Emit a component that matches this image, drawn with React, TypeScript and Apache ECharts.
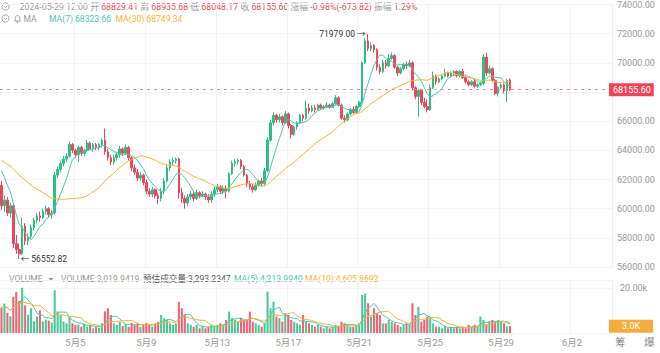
import React, { useEffect, useRef } from "react";
import * as echarts from "echarts";

const UP = "#2ebd85";
const DOWN = "#f0465c";
const MA_TEAL = "#4cc6b0";
const MA_ORANGE = "#f5b335";
const GRAY = "#999999";
const FONT = "Roboto, 'Noto Sans CJK SC', sans-serif";

// closes before the visible range, used only for the moving averages
const priorCloses = [
  63900, 64100, 63800, 63600, 63700, 63500, 63300, 63400, 63200, 63500, 63600, 63300, 63100, 63400, 63700,
  63600, 63500, 63300, 63400, 63600, 63500, 63300, 63500, 63800, 63500, 63300, 63100, 62700, 61600,
];

// [open, close, low, high] per 4h candle, from 2024-04-30 20:00
const candles: number[][] = [
  [61600, 60200, 59900, 61900], [60200, 60600, 59800, 60900], [60600, 59700, 59500, 60800], [59700, 60200, 59400, 60400],
  [60200, 57600, 57300, 60400], [57600, 57200, 56900, 58200], [57200, 56900, 56552.82, 57600], [56900, 58800, 56800, 59400],
  [58800, 57800, 57500, 59000], [57800, 58100, 57500, 58300], [58100, 58700, 57900, 58900], [58700, 59200, 58500, 59400],
  [59200, 59500, 59000, 59700], [59500, 59400, 59100, 59800], [59400, 59800, 59300, 60000], [59800, 60000, 59600, 60200],
  [60000, 59600, 59400, 60100], [59600, 59700, 59300, 59900], [59700, 62300, 59600, 62500], [62300, 62700, 62100, 62900],
  [62700, 63100, 62500, 63300], [63100, 63400, 62900, 63600], [63400, 63600, 63200, 63800], [63600, 64400, 63500, 64600],
  [64400, 64000, 63800, 64500], [64000, 63700, 63500, 64100], [63700, 64200, 63200, 64300], [64200, 63800, 63600, 64300],
  [63800, 64000, 63600, 64100], [64000, 64500, 63900, 64700], [64500, 64100, 64000, 64600], [64100, 64400, 63900, 64500],
  [64400, 64200, 64000, 64500], [64200, 64400, 64000, 64500], [64400, 64700, 64200, 64800], [64700, 63900, 63700, 65500],
  [63900, 63500, 63300, 64100], [63500, 63200, 63000, 63700], [63200, 63500, 63000, 63700], [63500, 63700, 63300, 63900],
  [63700, 64100, 63500, 64300], [64100, 63800, 63600, 64200], [63800, 64200, 63700, 64400], [64200, 63500, 63300, 64300],
  [63500, 62800, 62600, 63600], [62800, 62500, 62300, 63000], [62500, 62100, 61900, 62700], [62100, 62300, 61900, 62500],
  [62300, 61800, 61600, 62400], [61800, 61200, 61000, 62000], [61200, 61000, 60800, 61400], [61000, 61300, 60800, 61500],
  [61300, 60900, 60700, 61400], [60900, 60700, 60300, 61100], [60700, 61200, 60500, 61400], [61200, 61900, 61000, 62100],
  [61900, 62800, 61800, 63000], [62800, 63200, 62600, 63400], [63200, 63300, 63000, 63500], [63300, 63400, 63100, 63500],
  [63400, 61100, 60700, 63500], [61100, 60700, 60400, 61400], [60700, 60400, 60000, 60900], [60400, 60800, 60200, 61000],
  [60800, 61000, 60600, 61200], [61000, 60700, 60500, 61200], [60700, 61100, 60600, 61300], [61100, 60900, 60700, 61200],
  [60900, 61000, 60800, 61200], [61000, 60800, 60600, 61100], [60800, 60600, 60400, 61000], [60600, 61000, 60400, 61200],
  [61000, 61300, 60800, 61500], [61300, 61500, 61100, 61700], [61500, 61200, 61000, 61600], [61200, 61400, 61000, 61600],
  [61400, 61200, 60700, 61600], [61200, 62400, 61100, 62500], [62400, 63100, 62300, 63300], [63100, 63200, 62900, 63400],
  [63200, 63300, 63000, 63450], [63300, 62900, 62700, 63400], [62900, 62300, 62200, 63000], [62300, 61700, 61500, 62400],
  [61700, 61500, 61300, 61900], [61500, 61300, 61100, 61700], [61300, 61600, 61200, 61800], [61600, 61900, 61500, 62000],
  [61900, 61700, 61500, 62100], [61700, 62600, 61600, 62800], [62600, 64700, 62500, 64900], [64700, 65900, 64600, 66100],
  [65900, 66400, 65700, 66600], [66400, 66100, 65900, 66500], [66100, 66300, 65900, 66500], [66300, 65900, 65700, 66400],
  [65900, 66500, 65800, 66700], [66500, 65700, 65500, 66600], [65700, 65100, 64800, 65800], [65100, 65600, 65000, 65700],
  [65600, 65900, 65400, 66000], [65900, 66400, 65800, 66500], [66400, 66200, 66000, 66500], [66200, 66900, 66100, 67400],
  [66900, 66700, 66500, 67200], [66700, 66900, 66600, 67100], [66900, 66800, 66600, 67100], [66800, 67100, 66700, 67200],
  [67100, 66900, 66800, 67200], [66900, 67000, 66800, 67100], [67000, 67100, 66900, 67300], [67100, 66950, 66850, 67200],
  [66950, 67200, 66900, 67300], [67200, 67600, 67100, 67800], [67600, 67100, 67000, 67700], [67100, 66200, 66100, 67200],
  [66200, 66100, 65900, 66400], [66100, 66500, 66000, 66600], [66500, 66800, 66400, 66900], [66800, 66600, 66500, 67000],
  [66600, 67000, 66500, 67100], [67000, 67300, 66900, 67400], [67300, 70000, 67200, 70100], [70000, 71500, 69900, 71700],
  [71500, 71000, 70800, 71979], [71000, 71200, 70800, 71400], [71200, 70900, 70700, 71300], [70900, 69700, 69500, 71000],
  [69700, 69400, 69200, 69900], [69400, 70000, 69300, 70200], [70000, 69800, 69600, 70200], [69800, 70300, 69700, 70600],
  [70300, 70500, 70200, 70700], [70500, 69700, 69600, 70600], [69700, 69300, 69100, 69800], [69300, 69600, 69200, 69700],
  [69600, 69900, 69500, 70000], [69900, 69800, 69600, 70100], [69800, 70000, 69700, 70200], [70000, 68300, 68100, 70100],
  [68300, 67700, 67500, 68400], [67700, 68100, 66300, 68200], [68100, 67300, 67100, 68200], [67300, 67000, 66900, 67600],
  [67000, 66800, 66600, 67500], [66800, 68300, 66700, 68500], [68300, 69100, 68200, 69400], [69100, 68700, 68500, 69200],
  [68700, 68900, 68600, 69000], [68900, 69100, 68800, 69200], [69100, 69300, 69000, 69600], [69300, 69100, 69000, 69400],
  [69100, 69300, 69000, 69400], [69300, 69400, 69100, 69500], [69400, 69100, 69000, 69500], [69100, 69400, 69000, 69500],
  [69400, 69000, 68900, 69600], [69000, 68700, 68600, 69100], [68700, 68500, 68400, 68800], [68500, 68700, 68400, 68800],
  [68700, 68400, 68300, 68900], [68400, 68500, 68300, 68600], [68500, 68600, 68400, 68700], [68600, 70400, 68500, 70600],
  [70400, 69300, 69100, 70700], [69300, 69600, 69200, 69800], [69600, 68800, 68700, 69700], [68800, 67900, 67800, 68900],
  [67900, 68300, 67700, 68400], [68300, 68500, 68200, 68600], [68500, 68100, 67900, 68600], [68100, 68800, 67300, 68900],
  [68829.41, 68155.6, 68048.17, 68935.68],
];

const volumes = [
  11200, 13100, 9000, 7400, 16100, 18300, 14200, 20100, 12300, 8100, 11000, 5200, 7300, 10100, 5100, 5900,
  5500, 4600, 19000, 9600, 8000, 5100, 4300, 7100, 4300, 3600, 3700, 2800, 4200, 2900, 3600, 2100,
  2800, 2200, 4300, 9600, 11000, 8000, 4300, 3600, 5000, 3100, 4000, 2800, 4500, 3600, 4300, 2800,
  3600, 4500, 3600, 2800, 4300, 5000, 8000, 6600, 5800, 4300, 3600, 4300, 13900, 11000, 8000, 4300,
  3600, 2800, 3600, 2100, 2800, 2100, 2800, 3600, 2800, 3600, 4300, 3600, 5800, 9500, 6600, 5800,
  5000, 6600, 5800, 5800, 9500, 5000, 4300, 3600, 2800, 4300, 18400, 11000, 13900, 7300, 6600, 5000,
  8800, 8000, 5800, 5000, 4300, 3600, 8000, 5000, 4300, 3600, 2800, 3600, 2800, 2100, 2800, 2100,
  2800, 3600, 2800, 5000, 4300, 3600, 2800, 2800, 3600, 4300, 16900, 17500, 13200, 7300, 11000, 8800,
  8000, 4300, 4300, 5800, 5000, 4300, 3600, 2800, 3600, 4300, 3600, 13200, 8000, 11600, 5000, 5800,
  7300, 6600, 4300, 2800, 2800, 2100, 2800, 2100, 2800, 2100, 2800, 2100, 2800, 2100, 3600, 2800,
  3600, 2800, 7300, 5800, 3600, 5000, 5800, 5000, 5800, 5000, 4300, 2900, 3019.94,
];

const headerTime = "2024-05-29 12:00";
const headerOpen = "68829.41";
const headerHigh = "68935.68";
const headerLow = "68048.17";
const headerClose = "68155.60";
const headerChange = "-0.98%(-673.82)";
const headerAmp = "1.29%";
const ma7Text = "MA(7):68323.66";
const ma30Text = "MA(30):68749.34";
const volText = "VOLUME:3,019.9419";
const estVolText = "预估成交量:3,293.2347";
const volMa5Text = "MA(5):4,213.9940";
const volMa10Text = "MA(10):4,605.8692";
const lastPrice = 68155.6;
const lastVolume = 3019.94;

const CATEGORY_COUNT = 207;
const START_MS = Date.UTC(2024, 3, 30, 20);
const pad = (n: number) => (n < 10 ? "0" + n : "" + n);
const categories = Array.from({ length: CATEGORY_COUNT }, (_, i) => {
  const d = new Date(START_MS + i * 4 * 3600 * 1000);
  return `${d.getUTCFullYear()}-${pad(d.getUTCMonth() + 1)}-${pad(d.getUTCDate())} ${pad(d.getUTCHours())}:00`;
});
const showTick = (idx: number) => idx >= 25 && (idx - 25) % 24 === 0;
const tickLabel = (v: string) => {
  const m = parseInt(v.slice(5, 7), 10);
  const d = parseInt(v.slice(8, 10), 10);
  return `${m}月${d}`;
};

function movingAverage(values: number[], period: number, prior: number[] = []) {
  const all = prior.concat(values);
  return values.map((_, i) => {
    const end = prior.length + i;
    const start = Math.max(0, end - period + 1);
    let s = 0;
    for (let k = start; k <= end; k++) s += all[k];
    return +(s / (end - start + 1)).toFixed(2);
  });
}

export default function App() {
  const ref = useRef<HTMLDivElement>(null);
  useEffect(() => {
    if (!ref.current) return;
    const chart = echarts.init(ref.current, null, { renderer: "svg" });
    const closes = candles.map((c) => c[1]);
    const ma7 = movingAverage(closes, 7, priorCloses);
    const ma30 = movingAverage(closes, 30, priorCloses);
    const vma5 = movingAverage(volumes, 5);
    const vma10 = movingAverage(volumes, 10);
    let maxI = 0, minI = 0;
    candles.forEach((c, i) => {
      if (c[3] > candles[maxI][3]) maxI = i;
      if (c[2] < candles[minI][2]) minI = i;
    });
    const volData = volumes.map((v, i) => ({
      value: v,
      itemStyle: { color: candles[i][1] >= candles[i][0] ? UP : DOWN, opacity: 0.85 },
    }));

    const txt = (x: number, y: number, text: string, fill: string, size = 8.6) => ({
      type: "text",
      x,
      y,
      silent: true,
      style: { text, fill, font: `${size}px ${FONT}`, verticalAlign: "middle" },
    });
    const chevron = (cx: number, cy: number) => [
      { type: "circle", silent: true, shape: { cx, cy, r: 3.6 }, style: { fill: "none", stroke: "#9a9a9a", lineWidth: 0.9 } },
      {
        type: "polyline",
        silent: true,
        shape: { points: [[cx - 1.7, cy - 0.7], [cx, cy + 1.0], [cx + 1.7, cy - 0.7]] },
        style: { fill: "none", stroke: "#9a9a9a", lineWidth: 0.9 },
      },
    ];

    chart.setOption({
      animation: false,
      textStyle: { fontFamily: FONT },
      grid: [
        { left: -1, right: 48, top: 4, bottom: 86 },
        { left: -1, right: 48, top: 280, bottom: 20 },
      ],
      xAxis: [
        {
          type: "category",
          gridIndex: 0,
          data: categories,
          boundaryGap: true,
          axisLine: { show: false },
          axisTick: { show: false },
          axisLabel: { show: false },
          splitLine: { show: true, interval: showTick, lineStyle: { color: "#f4f4f4" } },
        },
        {
          type: "category",
          gridIndex: 1,
          data: categories,
          boundaryGap: true,
          axisLine: { show: false },
          axisTick: { show: false, alignWithLabel: true },
          axisLabel: { interval: showTick, formatter: tickLabel, color: GRAY, fontSize: 9.5, margin: 5 },
          splitLine: { show: true, interval: showTick, lineStyle: { color: "#f4f4f4" } },
        },
      ],
      yAxis: [
        {
          type: "value",
          gridIndex: 0,
          position: "right",
          min: 56000,
          max: 74000,
          interval: 2000,
          axisLine: { show: true, lineStyle: { color: "#efefef" } },
          axisTick: { show: false },
          axisLabel: {
            color: GRAY,
            fontSize: 9,
            margin: 5,
            // the tick under the last-price badge is covered in the reference
            formatter: (v: number) => (Math.abs(v - lastPrice) < 1000 ? "" : v.toFixed(2)),
          },
          splitLine: { lineStyle: { color: "#f4f4f4" } },
        },
        {
          type: "value",
          gridIndex: 1,
          position: "right",
          min: 0,
          max: 23555,
          interval: 20000,
          axisLine: { show: true, lineStyle: { color: "#efefef" } },
          axisTick: { show: false },
          axisLabel: {
            color: GRAY,
            fontSize: 9,
            margin: 8,
            formatter: (v: number) => (v === 20000 ? "20.00k" : ""),
          },
          splitLine: { lineStyle: { color: "#f4f4f4" } },
        },
      ],
      series: [
        {
          type: "candlestick",
          xAxisIndex: 0,
          yAxisIndex: 0,
          data: candles,
          barWidth: "70%",
          itemStyle: { color: UP, color0: DOWN, borderColor: UP, borderColor0: DOWN, borderWidth: 1 },
          markLine: {
            silent: true,
            symbol: ["none", "none"],
            data: [{ yAxis: lastPrice }],
            lineStyle: { color: "#f08895", type: [3, 4], width: 1 },
            label: {
              position: "end",
              distance: 0,
              offset: [-3, 0],
              formatter: lastPrice.toFixed(2),
              color: "#fff",
              backgroundColor: "#ee4559",
              padding: [2, 3, 2, 4],
              fontSize: 9,
            },
          },
          markPoint: {
            silent: true,
            symbol: "circle",
            symbolSize: 1,
            itemStyle: { color: "rgba(0,0,0,0)" },
            data: [
              {
                coord: [maxI, candles[maxI][3]],
                value: candles[maxI][3],
                label: {
                  show: true,
                  position: "left",
                  distance: 2,
                  color: "#333",
                  fontSize: 8.5,
                  formatter: candles[maxI][3].toFixed(2) + " →",
                },
              },
              {
                coord: [minI, candles[minI][2]],
                value: candles[minI][2],
                label: {
                  show: true,
                  position: "right",
                  distance: 1,
                  color: "#333",
                  fontSize: 8.5,
                  formatter: "← " + candles[minI][2].toFixed(2),
                },
              },
            ],
          },
        },
        {
          type: "line",
          xAxisIndex: 0,
          yAxisIndex: 0,
          data: ma7,
          showSymbol: false,
          silent: true,
          lineStyle: { color: MA_TEAL, width: 1 },
        },
        {
          type: "line",
          xAxisIndex: 0,
          yAxisIndex: 0,
          data: ma30,
          showSymbol: false,
          silent: true,
          lineStyle: { color: MA_ORANGE, width: 1 },
        },
        {
          type: "bar",
          xAxisIndex: 1,
          yAxisIndex: 1,
          data: volData,
          barWidth: "70%",
          markLine: {
            silent: true,
            symbol: ["none", "none"],
            data: [{ yAxis: lastVolume }],
            lineStyle: { color: "rgba(0,0,0,0)", width: 1, type: "solid" },
            label: {
              show: true,
              position: "end",
              distance: 0,
              offset: [-3, 0],
              formatter: (lastVolume / 1000).toFixed(1) + "K",
              color: "#fff",
              backgroundColor: "#f4ad3d",
              padding: [2, 13, 2, 13],
              fontSize: 9,
            },
          },
        },
        {
          type: "line",
          xAxisIndex: 1,
          yAxisIndex: 1,
          data: vma5,
          showSymbol: false,
          silent: true,
          lineStyle: { color: MA_TEAL, width: 1 },
        },
        {
          type: "line",
          xAxisIndex: 1,
          yAxisIndex: 1,
          data: vma10,
          showSymbol: false,
          silent: true,
          lineStyle: { color: MA_ORANGE, width: 1 },
        },
      ],
      graphic: [
        ...chevron(5.5, 6.5),
        {
          type: "text",
          x: 19.5,
          y: 6.5,
          silent: true,
          style: {
            text:
              `{g|${headerTime}} {g|开} {r|${headerOpen}} {g|高} {r|${headerHigh}} {g|低} {r|${headerLow}} ` +
              `{g|收} {r|${headerClose}} {g|涨幅} {r|${headerChange}} {g|振幅} {r|${headerAmp}}`,
            font: `8.8px ${FONT}`,
            verticalAlign: "middle",
            rich: {
              g: { fill: "#999", fontSize: 8.8, fontFamily: FONT },
              r: { fill: "#ee4559", fontSize: 8.8, fontFamily: FONT },
            },
          },
        },
        ...chevron(5.5, 18.5),
        {
          type: "polyline",
          silent: true,
          shape: {
            points: [
              [14.5, 21], [15.3, 19.8], [15.3, 17.3], [16.2, 15.9], [17.5, 15.4], [18.8, 15.9],
              [19.7, 17.3], [19.7, 19.8], [20.5, 21], [14.5, 21],
            ],
          },
          style: { fill: "none", stroke: "#9a9a9a", lineWidth: 0.9 },
        },
        { type: "circle", silent: true, shape: { cx: 17.5, cy: 22, r: 0.8 }, style: { fill: "#9a9a9a" } },
        txt(23.5, 18.5, "MA", "#999"),
        txt(49, 18.5, ma7Text, MA_TEAL),
        txt(115.5, 18.5, ma30Text, MA_ORANGE),
        txt(9, 279, "VOLUME", "#999"),
        {
          type: "polygon",
          silent: true,
          shape: { points: [[48.5, 278], [53.5, 278], [51, 281]] },
          style: { fill: "#999" },
        },
        txt(61, 279, volText, "#999"),
        txt(143, 279, estVolText, "#555"),
        txt(234, 279, volMa5Text, MA_TEAL),
        txt(305, 279, volMa10Text, MA_ORANGE),
        txt(615, 342, "筹", "#888", 10.5),
        txt(644, 342, "爆", "#888", 10.5),
      ],
    });
    return () => chart.dispose();
  }, []);
  return (
    <div
      ref={ref}
      style={{ position: "absolute", left: 0, top: 0, width: 660, height: 353, background: "#fff" }}
    />
  );
}
